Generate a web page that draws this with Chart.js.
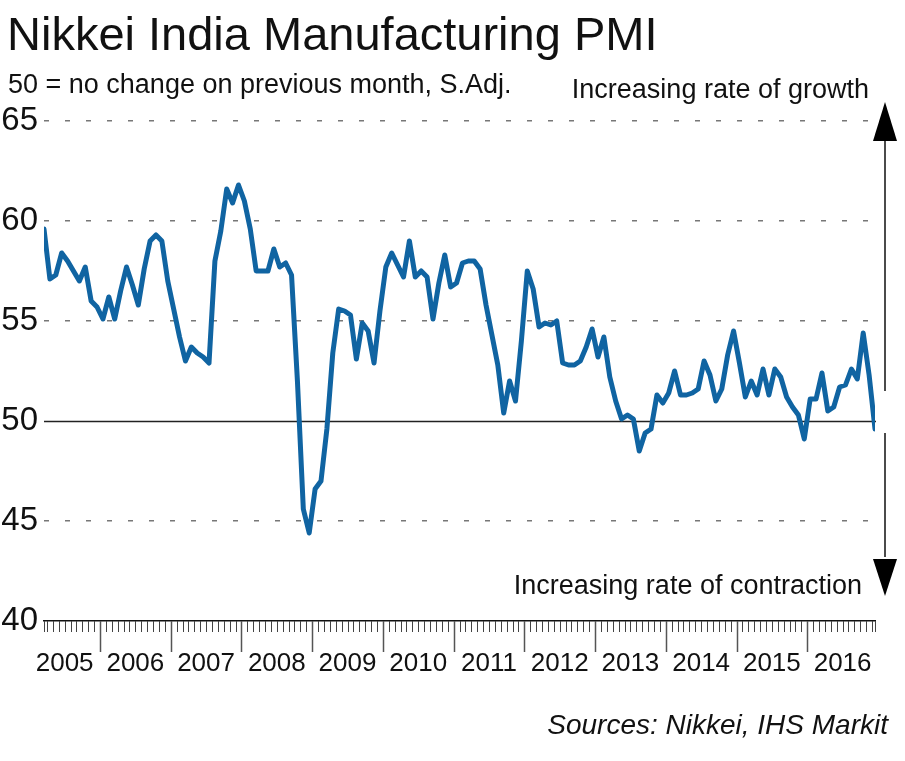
<!DOCTYPE html>
<html><head><meta charset="utf-8">
<script src="https://cdn.jsdelivr.net/npm/chart.js@4.4.0/dist/chart.umd.min.js"></script>
<style>
html,body{margin:0;padding:0;background:#fff;}
#wrap{position:relative;width:905px;height:761px;overflow:hidden;font-family:"Liberation Sans",Arial,sans-serif;color:#111;}
canvas{position:absolute;left:0;top:0;}
.t{position:absolute;white-space:nowrap;line-height:1;}
</style></head><body>
<div id="wrap">
<canvas id="c" width="905" height="761"></canvas>
<div class="t" style="left:7px;top:10px;font-size:47px;">Nikkei India Manufacturing PMI</div>
<div class="t" style="left:8px;top:71px;font-size:27px;">50 = no change on previous month, S.Adj.</div>
<div class="t" style="right:36px;top:76px;font-size:27px;">Increasing rate of growth</div>
<div class="t" style="right:43px;top:572px;font-size:27px;">Increasing rate of contraction</div>
<div class="t" style="right:17px;top:711px;font-size:28px;font-style:italic;">Sources: Nikkei, IHS Markit</div>
</div>
<script>
// Monthly PMI, March 2005 .. December 2016
const pmi2005 = [59.6, 57.1, 57.3, 58.4, 58.0, 57.5, 57.0, 57.7, 56.0, 55.7];
const pmi2006 = [55.1, 56.2, 55.1, 56.5, 57.7, 56.8, 55.8, 57.6, 59.0, 59.3, 59.0, 57.0];
const pmi2007 = [55.6, 54.2, 53.0, 53.7, 53.4, 53.2, 52.9, 58.0, 59.5, 61.6, 60.9, 61.8];
const pmi2008 = [61.0, 59.6, 57.5, 57.5, 57.5, 58.6, 57.7, 57.9, 57.3, 52.0, 45.6, 44.4];
const pmi2009 = [46.6, 47.0, 49.6, 53.4, 55.6, 55.5, 55.3, 53.1, 54.9, 54.5, 52.9, 55.5];
const pmi2010 = [57.7, 58.4, 57.8, 57.2, 59.0, 57.2, 57.5, 57.2, 55.1, 56.9, 58.3, 56.7];
const pmi2011 = [56.9, 57.9, 58.0, 58.0, 57.6, 55.8, 54.3, 52.8, 50.4, 52.0, 51.0, 54.0];
const pmi2012 = [57.5, 56.6, 54.7, 54.9, 54.8, 55.0, 52.9, 52.8, 52.8, 53.0, 53.7, 54.6];
const pmi2013 = [53.2, 54.2, 52.2, 51.0, 50.1, 50.3, 50.1, 48.5, 49.4, 49.6, 51.3, 50.9];
const pmi2014 = [51.4, 52.5, 51.3, 51.3, 51.4, 51.6, 53.0, 52.3, 51.0, 51.6, 53.3, 54.5];
const pmi2015 = [52.9, 51.2, 52.0, 51.3, 52.6, 51.3, 52.6, 52.2, 51.2, 50.7, 50.3, 49.1];
const pmi2016 = [51.1, 51.1, 52.4, 50.5, 50.7, 51.7, 51.8, 52.6, 52.1, 54.4, 52.3, 49.6];

const yearLabels = ['2005','2006','2007','2008','2009','2010','2011','2012','2013','2014','2015','2016'];
const yTicks = [40, 45, 50, 55, 60, 65];

const pmi = [].concat(pmi2005, pmi2006, pmi2007, pmi2008, pmi2009, pmi2010,
                      pmi2011, pmi2012, pmi2013, pmi2014, pmi2015, pmi2016);
const lastIdx = pmi.length - 1;
// first point is March 2005 -> January of year k sits at index 10 + 12*(k-1)
const yearBoundaries = yearLabels.slice(1).map((y, k) => 9.5 + 12 * k);
const yearCentres = yearLabels.map((y, k) => 3.5 + 12 * k);

const FONT = '"Liberation Sans", Arial, sans-serif';
Chart.defaults.font.family = FONT;
Chart.defaults.color = '#111';

const decor = {
  id: 'decor',
  beforeDatasetsDraw(chart) {
    const {ctx, chartArea: a, scales: {y}} = chart;
    const y50 = Math.round(y.getPixelForValue(50)) + 0.5;
    ctx.save();
    ctx.strokeStyle = '#222';
    ctx.lineWidth = 1.5;
    ctx.beginPath(); ctx.moveTo(a.left, y50); ctx.lineTo(a.right + 1, y50); ctx.stroke();
    ctx.restore();
  },
  afterDraw(chart) {
    const {ctx, chartArea: a, scales: {x, y}} = chart;
    ctx.save();
    const base = a.bottom;
    ctx.strokeStyle = '#444';
    ctx.lineWidth = 1;
    const minor = [0];
    for (let i = 0; i < lastIdx; i++) minor.push(i + 0.5);
    minor.push(lastIdx);
    ctx.beginPath();
    minor.forEach(v => {
      const px = Math.round(x.getPixelForValue(v)) + 0.5;
      ctx.moveTo(px, base); ctx.lineTo(px, base + 11);
    });
    ctx.stroke();
    ctx.strokeStyle = '#555';
    ctx.lineWidth = 1.5;
    ctx.beginPath();
    yearBoundaries.forEach(v => {
      const px = Math.round(x.getPixelForValue(v)) + 0.5;
      ctx.moveTo(px, base); ctx.lineTo(px, base + 31);
    });
    ctx.stroke();
    const ax = 885;
    const top65 = y.getPixelForValue(65);
    ctx.strokeStyle = '#111';
    ctx.fillStyle = '#000';
    ctx.lineWidth = 1.5;
    ctx.beginPath();
    ctx.moveTo(ax, top65 + 18); ctx.lineTo(ax, y.getPixelForValue(51.5));
    ctx.moveTo(ax, y.getPixelForValue(49.4)); ctx.lineTo(ax, y.getPixelForValue(43.2));
    ctx.stroke();
    ctx.beginPath();
    ctx.moveTo(ax, top65 - 19); ctx.lineTo(ax - 12, top65 + 20); ctx.lineTo(ax + 12, top65 + 20); ctx.closePath();
    ctx.fill();
    const b = y.getPixelForValue(43.1);
    ctx.beginPath();
    ctx.moveTo(ax - 12, b); ctx.lineTo(ax + 12, b); ctx.lineTo(ax, b + 37); ctx.closePath();
    ctx.fill();
    ctx.restore();
  }
};

new Chart(document.getElementById('c'), {
  type: 'line',
  data: {
    datasets: [{
      label: 'Nikkei India Manufacturing PMI',
      data: pmi.map((v, i) => ({x: i, y: v})),
      borderColor: '#1064a2',
      borderWidth: 5,
      pointRadius: 0,
      tension: 0,
      borderJoinStyle: 'round',
      borderCapStyle: 'round',
      fill: false
    }]
  },
  options: {
    responsive: false,
    animation: false,
    devicePixelRatio: 1,
    layout: {padding: {left: 0, right: 30, top: 121, bottom: 0}},
    plugins: {legend: {display: false}, tooltip: {enabled: false}},
    scales: {
      x: {
        type: 'linear', min: 0, max: lastIdx,
        afterBuildTicks: s => { s.ticks = yearCentres.map(v => ({value: v})); },
        afterFit: s => { s.height = 140; },
        grid: {display: true, drawOnChartArea: false, drawTicks: false},
        border: {display: true, color: '#111', width: 1.5},
        ticks: {
          autoSkip: false, maxRotation: 0, minRotation: 0, padding: 27,
          color: '#111', font: {size: 26},
          callback: (v, i) => yearLabels[i]
        }
      },
      y: {
        min: 40, max: 65,
        afterBuildTicks: s => { s.ticks = yTicks.map(v => ({value: v})); },
        afterFit: s => { s.width = 44; },
        grid: {
          drawTicks: false, lineWidth: 1.5,
          color: c => (c.tick && (c.tick.value === 40 || c.tick.value === 50)) ? 'rgba(0,0,0,0)' : '#777'
        },
        border: {display: false, dash: [5, 16]},
        ticks: {padding: 6, color: '#111', font: {size: 33}}
      }
    }
  },
  plugins: [decor]
});
</script>
</body></html>
